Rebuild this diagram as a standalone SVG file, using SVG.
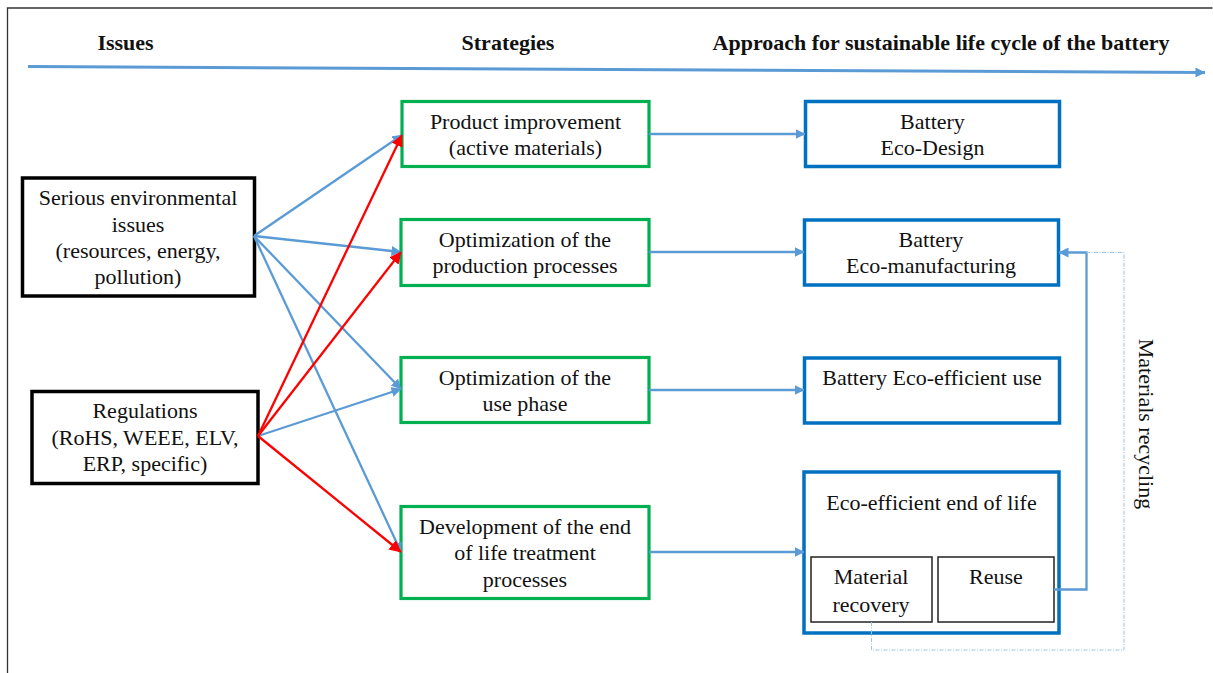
<svg xmlns="http://www.w3.org/2000/svg" width="1213" height="673" viewBox="0 0 1213 673">
<defs>
<marker id="ab" viewBox="0 0 10 10" refX="9.500" refY="5" markerWidth="10" markerHeight="10" markerUnits="userSpaceOnUse" orient="auto"><path d="M0 0L10 5L0 10Z" fill="#5b9bd5"/></marker>
<marker id="ar" viewBox="0 0 10 10" refX="9.500" refY="5" markerWidth="12" markerHeight="12" markerUnits="userSpaceOnUse" orient="auto"><path d="M0 0L10 5L0 10Z" fill="#ff0000"/></marker>
</defs>
<style>
text{font-family:"Liberation Serif","Times New Roman",serif;font-size:22px;fill:#111;text-anchor:middle}
.h{font-weight:bold}
rect{fill:#fff}
.k{stroke:#000;stroke-width:3.500}
.g{stroke:#00b050;stroke-width:3.200}
.b{stroke:#0070c0;stroke-width:3.500}
.t{stroke:#222;stroke-width:1.500}
.c{fill:none;stroke:#5b9bd5;stroke-width:2.300;marker-end:url(#ab)}
.r{fill:none;stroke:#ff0000;stroke-width:2.300;marker-end:url(#ar)}
</style>
<rect x="0" y="0" width="1213" height="673" style="fill:#fff"/>
<path d="M7.500 673V8H1212.500" fill="none" stroke="#333" stroke-width="1.300"/>
<text class="h" x="125.500" y="50">Issues</text>
<text class="h" x="508" y="50">Strategies</text>
<text class="h" x="941" y="50">Approach for sustainable life cycle of the battery</text>
<path d="M28 66.500L1205 72.500" fill="none" stroke="#5b9bd5" stroke-width="3" marker-end="url(#ab)"/>
<g id="node-environment"><rect class="k" x="22.500" y="178" width="232" height="118"/><text x="138" y="205">Serious environmental</text><text x="138" y="232">issues</text><text x="138" y="258">(resources, energy,</text><text x="138" y="284">pollution)</text></g>
<g id="node-regulations"><rect class="k" x="32" y="391.500" width="226" height="92"/><text x="145" y="418">Regulations</text><text x="145" y="445">(RoHS, WEEE, ELV,</text><text x="145" y="471">ERP, specific)</text></g>
<g id="node-product"><rect class="g" x="402" y="101.500" width="247" height="65"/><text x="525.500" y="129">Product improvement</text><text x="525.500" y="155">(active materials)</text></g>
<g id="node-production"><rect class="g" x="401" y="219.500" width="248" height="66"/><text x="525" y="247">Optimization of the</text><text x="525" y="273">production processes</text></g>
<g id="node-use"><rect class="g" x="401" y="357.500" width="248" height="65"/><text x="525" y="385">Optimization of the</text><text x="525" y="411">use phase</text></g>
<g id="node-eol"><rect class="g" x="401" y="506.500" width="248" height="92"/><text x="525" y="534">Development of the end</text><text x="525" y="560">of life treatment</text><text x="525" y="587">processes</text></g>
<g id="node-ecodesign"><rect class="b" x="805.500" y="101.500" width="254" height="65"/><text x="932.500" y="129">Battery</text><text x="932.500" y="155">Eco-Design</text></g>
<g id="node-ecomanufacturing"><rect class="b" x="804.500" y="220" width="254" height="65"/><text x="931" y="247">Battery</text><text x="931" y="273">Eco-manufacturing</text></g>
<g id="node-ecouse"><rect class="b" x="804.500" y="358" width="255" height="65"/><text x="932" y="385">Battery Eco-efficient use</text></g>
<g id="node-ecoeol"><rect class="b" x="804" y="472" width="255" height="161"/><text x="931.500" y="510">Eco-efficient end of life</text></g>
<g id="node-recovery"><rect class="t" x="811" y="557" width="121" height="65"/><text x="871" y="584">Material</text><text x="871" y="612">recovery</text></g>
<g id="node-reuse"><rect class="t" x="938" y="557" width="116" height="65"/><text x="996" y="584">Reuse</text></g>
<g id="connectors">
<path class="c" d="M254 236L402 135"/>
<path class="c" d="M254 236L401 252"/>
<path class="c" d="M254 236L401 389"/>
<path class="c" d="M254 236L401 552"/>
<path class="c" d="M258 436L401 389"/>
<path class="r" d="M258 436L402 135"/>
<path class="r" d="M258 436L401 252"/>
<path class="r" d="M258 436L401 552"/>
<path class="c" d="M649 134H805"/>
<path class="c" d="M649 252H804"/>
<path class="c" d="M649 390H804"/>
<path class="c" d="M649 552H804"/>
<path class="c" d="M1054 589.500H1086.500V252.500H1059"/>
<path d="M871.500 622V650H1124V252.500H1086" fill="none" stroke="#9dc3e6" stroke-width="1" stroke-dasharray="4 1.500 1 1.500"/>
</g>
<text transform="translate(1139 424) rotate(90)" y="0">Materials recycling</text>
</svg>
